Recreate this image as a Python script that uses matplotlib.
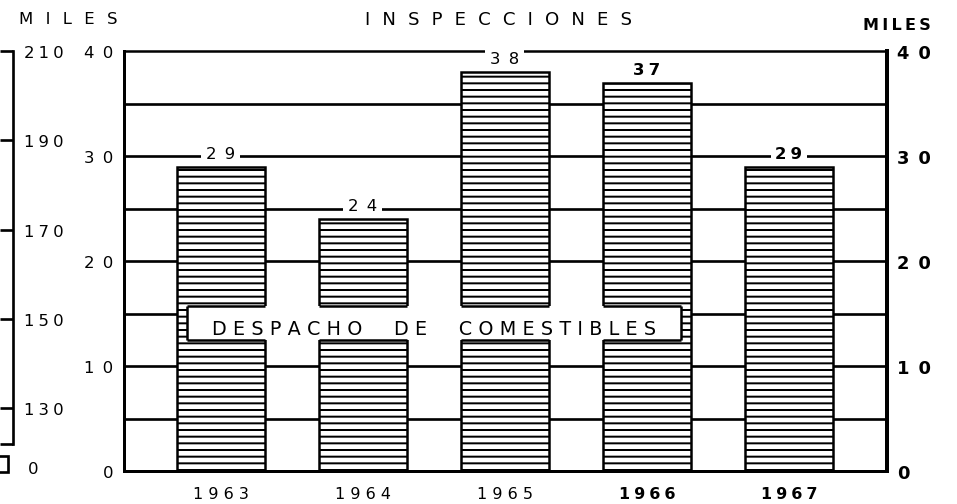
import matplotlib
matplotlib.use("Agg")
import matplotlib.pyplot as plt
from matplotlib.patches import Rectangle

# --- data -------------------------------------------------------------
years = ["1963", "1964", "1965", "1966", "1967"]
inspections = [29, 24, 38, 37, 29]          # miles de inspecciones
main_ticks = [0, 10, 20, 30, 40]
grid_levels = [5, 10, 15, 20, 25, 30, 35]
aux_ticks = [130, 150, 170, 190, 210]
aux_floor = 122                              # where the broken scale stops
category_label = "DESPACHO DE COMESTIBLES"
title = "INSPECCIONES"
unit = "MILES"

# --- style --------------------------------------------------------------
DPI = 120
W, H = 957, 505
plt.rcParams["font.family"] = ["DejaVu Sans"]
plt.rcParams["hatch.linewidth"] = 1.2

EM, EN, THREE, FOUR, SIX, THIN = "\u2003", "\u2002", "\u2004", "\u2005", "\u2006", "\u2009"
HEAVY_FROM = 3   # the last two years are set in bold


def track(text, gap, word_gap=None):
    """Emulate letter spacing by putting a space glyph between characters."""
    if word_gap is None:
        word_gap = gap + " " + gap
    return word_gap.join(gap.join(word) for word in text.split(" "))


def fx(x):
    return x / W


def fy(y):
    return 1 - y / H


fig = plt.figure(figsize=(W / DPI, H / DPI), dpi=DPI)
fig.patch.set_facecolor("white")

# --- main axes ------------------------------------------------------------
ax = fig.add_axes([fx(124), fy(472), 763 / W, 420 / H])
xs = list(range(len(years)))
ax.set_xlim(-0.68, 4.69)
ax.set_ylim(0, 40)

for lv in grid_levels:
    ax.axhline(lv, color="black", lw=1.6, zorder=1)

bars = ax.bar(xs, inspections, width=0.62, color="white", edgecolor="black",
              linewidth=1.5, hatch="---", zorder=2)

weights = ["bold" if i >= HEAVY_FROM else "normal" for i in range(len(years))]

# value labels sit on a white patch that interrupts the grid line
for xi, v, w in zip(xs, inspections, weights):
    gap = FOUR if w == "bold" else EN
    ax.annotate(track(str(v), gap), xy=(xi, v), xytext=(0, 8.0),
                textcoords="offset points", ha="center", va="center",
                fontsize=9.9, fontweight=w, zorder=6,
                bbox=dict(boxstyle="square,pad=0.3", fc="white", ec="none"))

# category caption cut through the bars
box_left, box_right, box_bottom, box_top = -0.24, 3.24, 12.45, 15.7
ax.add_patch(Rectangle((box_left, box_bottom), box_right - box_left,
                       box_top - box_bottom, fc="white", ec="none", lw=0, zorder=3))
for bar in bars:
    bl = bar.get_x()
    br = bl + bar.get_width()
    lo, hi = max(bl, box_left), min(br, box_right)
    if hi > lo and bar.get_height() > box_top:
        ax.hlines([box_bottom, box_top], lo, hi, color="black", lw=1.5, zorder=4)
    for edge in (box_left, box_right):
        if bl < edge < br:
            ax.vlines(edge, box_bottom, box_top, color="black", lw=1.5, zorder=4)
ax.text((box_left + box_right) / 2, 13.05,
        track(category_label, THREE, EM + THREE + THREE),
        ha="center", va="baseline", fontsize=11.5, zorder=5)

# axes frame
ax.spines["left"].set_linewidth(1.8)
ax.spines["bottom"].set_linewidth(1.8)
ax.spines["top"].set_linewidth(1.5)
ax.spines["right"].set_linewidth(2.4)

ax.set_yticks(main_ticks, [track(str(t), EN) for t in main_ticks])
ax.tick_params(axis="y", length=0, pad=6.6, labelsize=9.9)
ax.set_xticks(xs, [track(y, FOUR if w == "bold" else " ") for y, w in zip(years, weights)])
ax.tick_params(axis="x", length=0, pad=9, labelsize=9.6)
for lbl, w in zip(ax.get_xticklabels(), weights):
    lbl.set_fontweight(w)

# right-hand scale
axr = ax.twinx()
axr.set_ylim(0, 40)
axr.set_yticks(main_ticks, [track(str(t), EN) for t in main_ticks])
axr.tick_params(axis="y", length=0, pad=6, labelsize=10.7)
for lbl in axr.get_yticklabels():
    lbl.set_fontweight("heavy")
for s in axr.spines.values():
    s.set_visible(False)

# --- auxiliary broken scale at the far left --------------------------------
ax2 = fig.add_axes([0, fy(445), 13 / W, (445 - 52) / H])
ax2.patch.set_visible(False)
for s in ("left", "top", "bottom"):
    ax2.spines[s].set_visible(False)
ax2.spines["right"].set_linewidth(1.6)
ax2.set_ylim(aux_floor, aux_ticks[-1])
ax2.set_xticks([])
ax2.yaxis.tick_right()
ax2.set_yticks([aux_floor] + aux_ticks, [""] + [track(str(t), FOUR) for t in aux_ticks])
ax2.tick_params(axis="y", direction="in", length=7.8, width=1.6, pad=6.6, labelsize=9.9)
fig.add_artist(Rectangle((fx(-8), fy(473)), 16 / W, 16 / H, transform=fig.transFigure,
                         fc="white", ec="black", lw=1.6))
fig.text(fx(33), fy(470), "0", ha="center", va="center", fontsize=9.9)

# --- headings ---------------------------------------------------------------
fig.text(fx(498), fy(20), track(title, EN + SIX), ha="center", va="center", fontsize=10.9)
fig.text(fx(68), fy(20), track(unit, EN + FOUR), ha="center", va="center", fontsize=9.9)
fig.text(fx(897), fy(25), track(unit, THIN), ha="center", va="center",
         fontsize=9.6, fontweight="heavy")

fig.savefig("out.png", dpi=DPI)
